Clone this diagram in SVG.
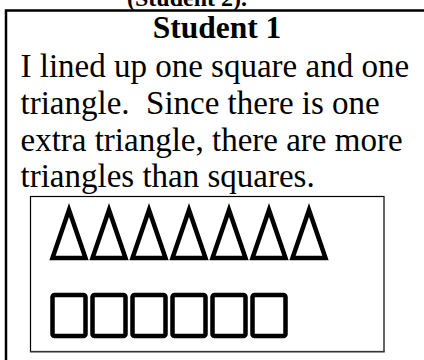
<svg xmlns="http://www.w3.org/2000/svg" width="424" height="360" viewBox="0 0 424 360">
<style>
.t{font-family:"Liberation Serif","Times New Roman",serif;fill:#000;white-space:pre}
.b{font-weight:bold}
.tri{fill:none;stroke:#000;stroke-width:4.5;stroke-linejoin:miter}
.sq{fill:none;stroke:#000;stroke-width:4.5}
</style>
<rect x="0" y="0" width="424" height="360" fill="#fff"/>
<text class="t b" x="127" y="6" font-size="24">(Student 2).</text>
<rect x="6" y="10.5" width="430" height="360" fill="none" stroke="#000" stroke-width="2.5"/>
<text class="t b" x="217" y="38" font-size="31.5" text-anchor="middle">Student 1</text>
<g class="t" font-size="33">
<text x="20.5" y="77">I lined up one square and one</text>
<text x="20.5" y="113.5" xml:space="preserve">triangle.  Since there is one</text>
<text x="20.5" y="150.5">extra triangle, there are more</text>
<text x="20.5" y="187">triangles than squares.</text>
</g>
<rect x="30.5" y="196.5" width="353.5" height="155" fill="none" stroke="#000" stroke-width="1.2"/>
<line x1="30" y1="351.8" x2="384.8" y2="351.8" stroke="#444" stroke-width="1.2"/>
<g>
<polygon class="tri" points="69,210 52.5,258 85.5,258"/>
<polygon class="tri" points="109,210 92.5,258 125.5,258"/>
<polygon class="tri" points="149,210 132.5,258 165.5,258"/>
<polygon class="tri" points="189,210 172.5,258 205.5,258"/>
<polygon class="tri" points="229,210 212.5,258 245.5,258"/>
<polygon class="tri" points="269,210 252.5,258 285.5,258"/>
<polygon class="tri" points="309,210 292.5,258 325.5,258"/>
</g>
<g>
<rect class="sq" x="52.5" y="295" width="33" height="41" rx="2"/>
<rect class="sq" x="92.5" y="295" width="33" height="41" rx="2"/>
<rect class="sq" x="132.5" y="295" width="33" height="41" rx="2"/>
<rect class="sq" x="172.5" y="295" width="33" height="41" rx="2"/>
<rect class="sq" x="212.5" y="295" width="33" height="41" rx="2"/>
<rect class="sq" x="252.5" y="295" width="33" height="41" rx="2"/>
</g>
</svg>
